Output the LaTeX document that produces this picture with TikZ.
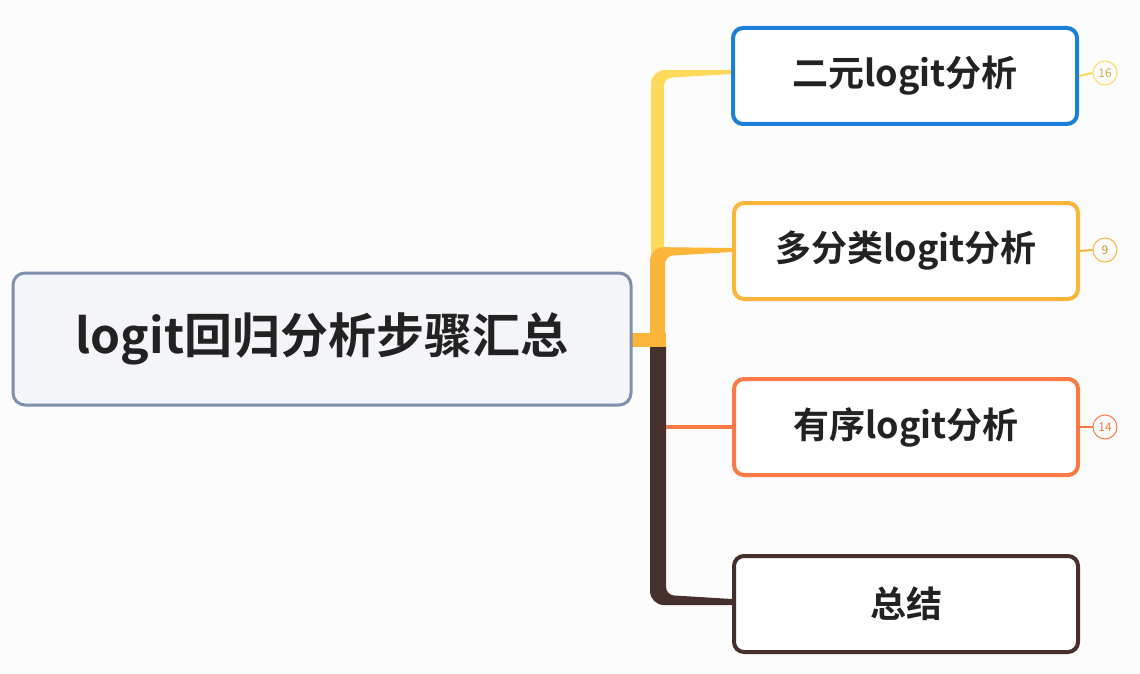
\documentclass[tikz,border=0pt]{standalone}
\usepackage{fontspec}
\setmainfont{Noto Sans CJK SC}[BoldFont={Noto Sans CJK SC Bold}]
\definecolor{bg}{HTML}{FCFCFD}
\definecolor{rootfill}{HTML}{F4F5F9}
\definecolor{rootline}{HTML}{7F90AA}
\definecolor{cblue}{HTML}{1E7FD8}
\definecolor{corange}{HTML}{FBB63A}
\definecolor{cred}{HTML}{F97A45}
\definecolor{cbrown}{HTML}{45302C}
\definecolor{cyellow}{HTML}{FFD95A}
\definecolor{ctext}{HTML}{222222}
\begin{document}
\begin{tikzpicture}[x=1pt,y=-1pt,
  box/.style={draw,line width=4pt,rounded corners=10pt,fill=white,minimum width=344pt,minimum height=96pt,font=\fontsize{36}{42}\selectfont\bfseries,text=ctext},
  badge/.style={draw,circle,line width=1pt,minimum size=24pt,inner sep=0pt,font=\fontsize{12}{14}\selectfont}]
\fill[bg] (0,0) rectangle (1140,674);
% branches as tapered fills
\fill[cyellow] (651,258) [rounded corners=14pt]-- (651,70) [sharp corners]-- (732,70) -- (732,74) [rounded corners=8pt]-- (664,78) [sharp corners]-- (664,258) -- cycle;
\fill[corange] (650,346) [rounded corners=14pt]-- (650,247) [sharp corners]-- (732,248) -- (732,252) [rounded corners=8pt]-- (665,256) [sharp corners]-- (665,346) -- cycle;
\fill[cbrown] (650,346) -- (650,590) [rounded corners=14pt]-- (650,605) [sharp corners]-- (732,605) -- (732,599) [rounded corners=8pt]-- (666,595) [sharp corners]-- (666,346) -- cycle;
\fill[corange] (630,333) rectangle (666,347);
\draw[cred,line width=4pt] (666,427) -- (732,427);
\node[draw=rootline,line width=3pt,rounded corners=12pt,fill=rootfill,minimum width=618pt,minimum height=132pt,font=\fontsize{48}{56}\selectfont\bfseries,text=ctext] (root) at (322,339) {logit回归分析步骤汇总};
\node[box,draw=cblue] (b1) at (905,76) {二元logit分析};
\node[box,draw=corange] (b2) at (906,251) {多分类logit分析};
\node[box,draw=cred] (b3) at (906,427) {有序logit分析};
\node[box,draw=cbrown] (b4) at (906,604) {总结};
\node[badge,draw=cyellow,text=cyellow!80!black] (n1) at (1105,73) {16};
\node[badge,draw=corange,text=corange!80!black] (n2) at (1105,250) {9};
\node[badge,draw=cred,text=cred] (n3) at (1105,427) {14};
\draw[cyellow,line width=2pt] (b1.east) -- (n1.west);
\draw[corange,line width=2pt] (b2.east) -- (n2.west);
\draw[cred,line width=2pt] (b3.east) -- (n3.west);
\end{tikzpicture}
\end{document}
